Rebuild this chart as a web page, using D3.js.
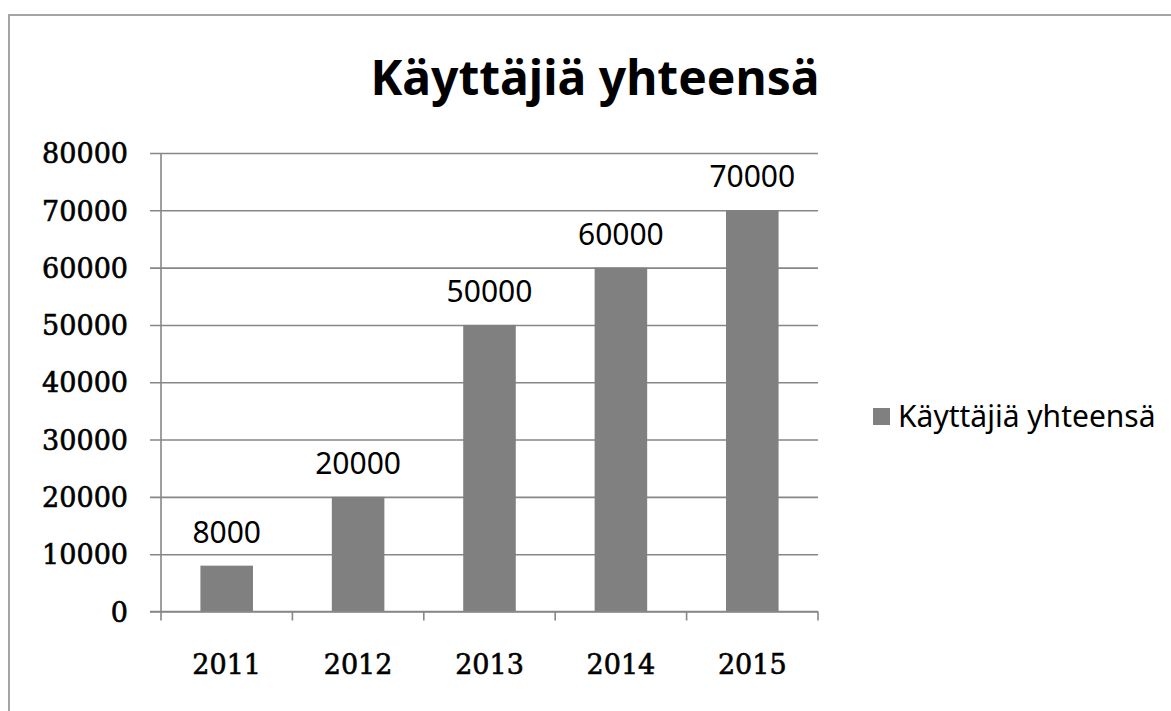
<!DOCTYPE html>
<html>
<head>
<meta charset="utf-8">
<script src="https://cdn.jsdelivr.net/npm/d3@7"></script>
<style>
  html, body { margin: 0; padding: 0; background: #fff; }
  svg { display: block; }
</style>
</head>
<body>
<svg id="chart" width="1171" height="711"></svg>
<script>
const title = "Käyttäjiä yhteensä";
const seriesName = "Käyttäjiä yhteensä";
const categories = ["2011", "2012", "2013", "2014", "2015"];
const values = [8000, 20000, 50000, 60000, 70000];
const yTicks = [0, 10000, 20000, 30000, 40000, 50000, 60000, 70000, 80000];

const svg = d3.select("#chart");
const W = 1171, H = 711;
const plot = { left: 161, right: 818, top: 153, bottom: 611.5 };

const serif = "'DejaVu Serif', 'Liberation Serif', serif";
const sans = "'Noto Sans', 'Open Sans', sans-serif";
const gridColor = "#878787";
const barColor = "#808080";

svg.append("rect").attr("width", W).attr("height", H).attr("fill", "#fff");

// outer chart border
svg.append("rect")
  .attr("x", 9).attr("y", 15)
  .attr("width", W + 20).attr("height", H + 20)
  .attr("fill", "none").attr("stroke", "#a5a5a5").attr("stroke-width", 2);

const x = d3.scaleBand()
  .domain(categories)
  .range([plot.left, plot.right])
  .paddingInner(0.6)
  .paddingOuter(0.3);

const y = d3.scaleLinear()
  .domain([0, 80000])
  .range([plot.bottom, plot.top]);

// gridlines + y axis
const yAxis = d3.axisLeft(y)
  .tickValues(yTicks)
  .tickSize(-(plot.right - plot.left))
  .tickFormat(d => String(d))
  .tickPadding(20);

const gy = svg.append("g")
  .attr("transform", `translate(${plot.left},0)`)
  .call(yAxis);
gy.select(".domain").remove();
gy.selectAll(".tick line")
  .attr("x1", -11)
  .attr("stroke", gridColor).attr("stroke-width", 1.6);
gy.selectAll(".tick text")
  .attr("x", -33)
  .attr("dy", "0.36em")
  .attr("fill", "#000")
  .attr("stroke", "#000").attr("stroke-width", 0.6)
  .style("font-family", serif)
  .style("font-size", "27px");

// y axis line
svg.append("line")
  .attr("x1", plot.left).attr("x2", plot.left)
  .attr("y1", plot.top).attr("y2", plot.bottom)
  .attr("stroke", gridColor).attr("stroke-width", 1.6);

// bars
svg.append("g").selectAll("rect")
  .data(values)
  .join("rect")
  .attr("x", (d, i) => x(categories[i]))
  .attr("width", x.bandwidth())
  .attr("y", d => y(d))
  .attr("height", d => y(0) - y(d))
  .attr("fill", barColor);

// data labels
svg.append("g").selectAll("text")
  .data(values)
  .join("text")
  .attr("x", (d, i) => x(categories[i]) + x.bandwidth() / 2)
  .attr("y", d => y(d) - 23)
  .attr("text-anchor", "middle")
  .attr("fill", "#000")
  .style("font-family", sans)
  .style("font-size", "30px")
  .text(d => String(d));

// x axis
const step = x.step();
const xBounds = d3.range(categories.length + 1).map(i => plot.left + i * step);
svg.append("line")
  .attr("x1", plot.left - 11).attr("x2", plot.right)
  .attr("y1", plot.bottom).attr("y2", plot.bottom)
  .attr("stroke", gridColor).attr("stroke-width", 1.6);
svg.append("g").selectAll("line")
  .data(xBounds)
  .join("line")
  .attr("x1", d => d).attr("x2", d => d)
  .attr("y1", plot.bottom).attr("y2", plot.bottom + 9)
  .attr("stroke", gridColor).attr("stroke-width", 1.6);

svg.append("g").selectAll("text")
  .data(categories)
  .join("text")
  .attr("x", d => x(d) + x.bandwidth() / 2)
  .attr("y", 674)
  .attr("text-anchor", "middle")
  .attr("fill", "#000")
  .attr("stroke", "#000").attr("stroke-width", 0.6)
  .style("font-family", serif)
  .style("font-size", "27px")
  .text(d => d);

// title
svg.append("text")
  .attr("x", 595).attr("y", 95)
  .attr("text-anchor", "middle")
  .attr("fill", "#000")
  .style("font-family", sans)
  .style("font-weight", "bold")
  .style("font-size", "48px")
  .text(title);

// legend
const lg = svg.append("g");
lg.append("rect")
  .attr("x", 873).attr("y", 408)
  .attr("width", 17).attr("height", 17)
  .attr("fill", barColor);
lg.append("text")
  .attr("x", 898).attr("y", 427)
  .attr("fill", "#000")
  .style("font-family", sans)
  .style("font-size", "30px")
  .text(seriesName);
</script>
</body>
</html>
